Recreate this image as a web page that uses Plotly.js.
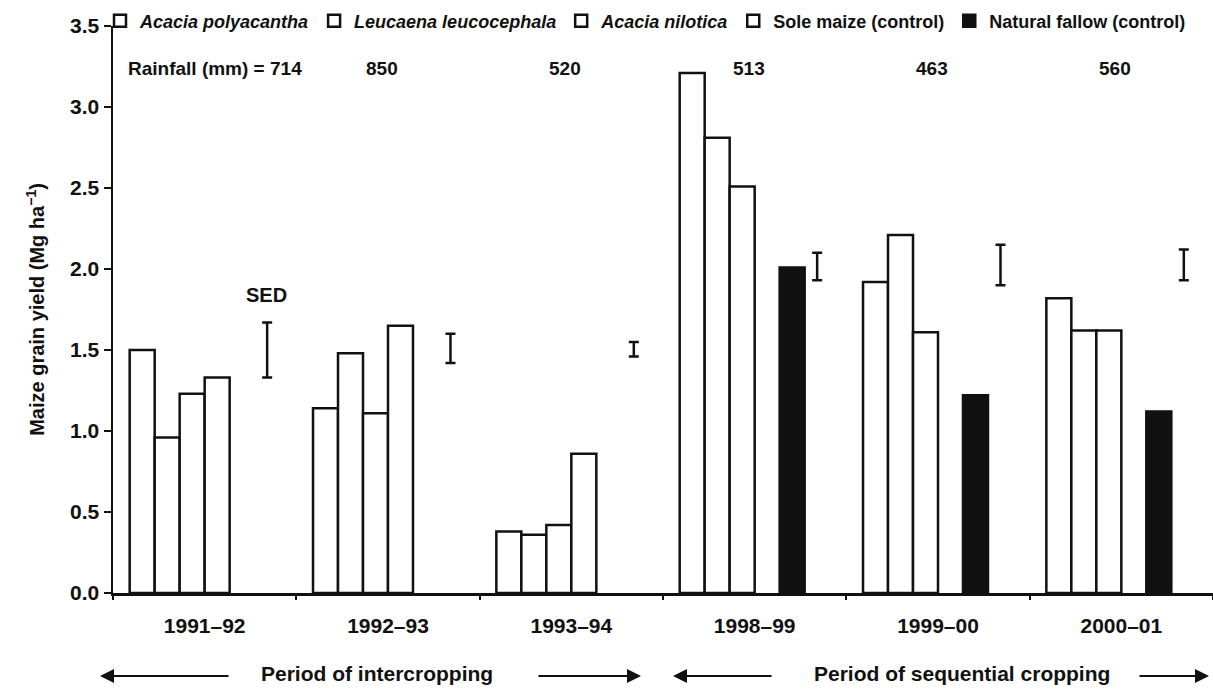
<!DOCTYPE html>
<html><head><meta charset="utf-8">
<script src="https://cdn.plot.ly/plotly-3.0.1.min.js"></script>
<style>html,body{margin:0;padding:0;background:#fff}#chart{width:1213px;height:691px}</style>
</head><body><div id="chart"></div>
<script>
// ---- data ----
const seasons = ['1991–92', '1992–93', '1993–94', '1998–99', '1999–00', '2000–01'];
const acaciaPolyacantha = [1.50, 1.14, 0.38, 3.21, 1.92, 1.82];
const leucaenaLeucocephala = [0.96, 1.48, 0.36, 2.81, 2.21, 1.62];
const acaciaNilotica = [1.23, 1.11, 0.42, 2.51, 1.61, 1.62];
const soleMaize = [1.33, 1.65, 0.86, null, null, null];
const naturalFallow = [null, null, null, 2.01, 1.22, 1.12];
const sedLow = [1.33, 1.42, 1.46, 1.93, 1.90, 1.93];
const sedHigh = [1.67, 1.60, 1.55, 2.10, 2.15, 2.12];
const rainfall = [714, 850, 520, 513, 463, 560];
const seriesNames = ['<i>Acacia polyacantha</i>', '<i>Leucaena leucocephala</i>', '<i>Acacia nilotica</i>', 'Sole maize (control)', 'Natural fallow (control)'];
const seriesFill = ['#ffffff', '#ffffff', '#ffffff', '#ffffff', '#111111'];
const periodLabels = ['Period of intercropping', 'Period of sequential cropping'];

// ---- styling helpers ----
const FONT = 'Liberation Sans, Arial, Helvetica, sans-serif';
const INK = '#111111';
const L = 113, T = 26, W = 1100, H = 567;
const px = v => (v - L) / W;          // pixel -> paper x
const py = v => (T + H - v) / H;      // pixel -> paper y

const seriesValues = [acaciaPolyacantha, leucaenaLeucocephala, acaciaNilotica, soleMaize, naturalFallow];
const traces = seriesValues.map((vals, i) => ({
  type: 'bar', x: seasons, y: vals, name: seriesNames[i],
  marker: {color: seriesFill[i], line: {color: INK, width: 2.5}},
  hoverinfo: 'skip'
}));
// SED bars (drawn as error bars on an invisible bar in the 6th slot of each group)
traces.push({
  type: 'bar', x: seasons,
  y: sedLow.map((lo, i) => (lo + sedHigh[i]) / 2),
  error_y: {type: 'data', array: sedLow.map((lo, i) => (sedHigh[i] - lo) / 2), color: INK, thickness: 2.5, width: 5},
  marker: {color: 'rgba(0,0,0,0)', line: {width: 0}},
  showlegend: false, hoverinfo: 'skip', name: 'SED'
});

const annotations = [];
// Rainfall row
annotations.push({xref: 'paper', yref: 'paper', x: px(126), y: py(68), xanchor: 'left', yanchor: 'middle',
  text: 'Rainfall (mm) = ' + rainfall[0], showarrow: false, font: {family: FONT, size: 19, weight: 'bold', color: INK}});
for (let i = 1; i < seasons.length; i++) {
  annotations.push({xref: 'x', yref: 'paper', x: seasons[i], y: py(68), xanchor: 'center', yanchor: 'middle', xshift: -6,
    text: String(rainfall[i]), showarrow: false, font: {family: FONT, size: 19, weight: 'bold', color: INK}});
}
// SED label
annotations.push({xref: 'x', yref: 'y', x: seasons[0], y: 1.84, xshift: 62, xanchor: 'center', yanchor: 'middle',
  text: 'SED', showarrow: false, font: {family: FONT, size: 20, weight: 'bold', color: INK}});
// Period labels with arrows
const textY = py(673), arrowY = py(676);
annotations.push({xref: 'paper', yref: 'paper', x: px(377), y: textY, xanchor: 'center', yanchor: 'middle',
  text: periodLabels[0], showarrow: false, font: {family: FONT, size: 21, weight: 'bold', color: INK}});
annotations.push({xref: 'paper', yref: 'paper', x: px(962), y: textY, xanchor: 'center', yanchor: 'middle',
  text: periodLabels[1], showarrow: false, font: {family: FONT, size: 21, weight: 'bold', color: INK}});
const arrows = [[100, 230], [641, 537], [673, 773], [1209, 1138]];
arrows.forEach(([head, tail]) => {
  annotations.push({xref: 'paper', yref: 'paper', x: px(head), y: arrowY, ax: tail - head, ay: 0, axref: 'pixel', ayref: 'pixel',
    text: '', showarrow: true, arrowhead: 2, arrowsize: 1.4, arrowwidth: 2, arrowcolor: INK});
});

const layout = {
  width: 1213, height: 691,
  margin: {l: L, r: 0, t: T, b: 691 - T - H},
  paper_bgcolor: '#ffffff', plot_bgcolor: '#ffffff',
  barmode: 'group', bargap: 0.182, bargroupgap: 0,
  font: {family: FONT, color: INK},
  showlegend: true,
  legend: {orientation: 'h', x: px(100), xanchor: 'left', y: py(21), yanchor: 'middle',
    font: {family: FONT, size: 18, weight: 'bold', color: INK}, bgcolor: 'rgba(0,0,0,0)', itemwidth: 30,
    traceorder: 'normal'},
  xaxis: {type: 'category', range: [-0.5, 5.5], showline: true, linecolor: INK, linewidth: 2.5,
    ticks: 'outside', tickson: 'boundaries', ticklen: 4, tickwidth: 2, tickcolor: INK,
    tickfont: {family: FONT, size: 21, weight: 'bold', color: INK}, ticklabelstandoff: 12,
    showgrid: false, zeroline: false, fixedrange: true},
  yaxis: {range: [0, 3.5], dtick: 0.5, tick0: 0, tickformat: '.1f', showline: true, linecolor: INK, linewidth: 2.5,
    ticks: 'outside', ticklen: 7, tickwidth: 2, tickcolor: INK,
    tickfont: {family: FONT, size: 21, weight: 'bold', color: INK},
    showgrid: false, zeroline: false, fixedrange: true,
    title: {text: 'Maize grain yield (Mg ha<sup>−1</sup>)', font: {family: FONT, size: 20, weight: 'bold', color: INK}, standoff: 20}},
  annotations: annotations,
  hovermode: false
};

Plotly.newPlot('chart', traces, layout, {displayModeBar: false, staticPlot: true});
</script></body></html>
